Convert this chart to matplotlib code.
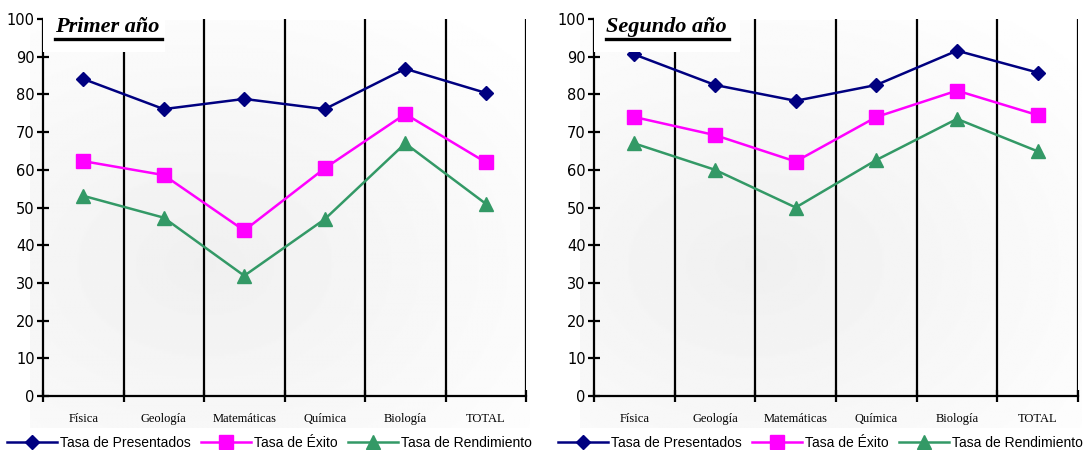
import numpy as np
import matplotlib
matplotlib.use('Agg')
import matplotlib.pyplot as plt
from matplotlib.patches import Rectangle

# Data
categorias = ['Física', 'Geología', 'Matemáticas', 'Química', 'Biología', 'TOTAL']
series = ['Tasa de Presentados', 'Tasa de Éxito', 'Tasa de Rendimiento']

primer_presentados = [84.1, 76.1, 78.8, 76.1, 86.8, 80.4]
primer_exito = [62.3, 58.6, 43.9, 60.4, 74.8, 62.0]
primer_rendimiento = [53.1, 47.3, 31.9, 46.9, 67.0, 51.0]

segundo_presentados = [90.6, 82.5, 78.3, 82.5, 91.6, 85.8]
segundo_exito = [74.0, 69.2, 62.2, 74.0, 81.0, 74.5]
segundo_rendimiento = [67.0, 60.0, 50.0, 62.6, 73.5, 64.9]

colores = ['#000080', '#ff00ff', '#339966']
marcadores = ['D', 's', '^']
tamanos = [7.5, 10, 10]

W, H = 1086, 450
fig = plt.figure(figsize=(W / 100, H / 100), dpi=100)


def fx(px):
    return px / W


def fy(py):
    return 1 - py / H


# soft gray background behind each chart area (darker around lower middle-left)
yy, xx = np.mgrid[0:1:200j, 0:1:300j]
rr = np.clip(np.sqrt(((xx - 0.35) / 0.9) ** 2 + ((yy - 0.6) / 0.8) ** 2), 0, 1)
grad = 0.94 + 0.06 * rr
for x0, x1 in [(30, 530), (580, 1082)]:
    bg = fig.add_axes([fx(x0), fy(428), fx(x1 - x0), fy(20) - fy(428)], zorder=-5)
    bg.imshow(grad, cmap='gray', vmin=0, vmax=1, aspect='auto', extent=[0, 1, 0, 1],
              origin='upper')
    bg.axis('off')

paneles = [
    ('Primer año', 43, 526, [primer_presentados, primer_exito, primer_rendimiento], 165, 162),
    ('Segundo año', 594, 1078, [segundo_presentados, segundo_exito, segundo_rendimiento], 740, 729),
]

x = np.arange(len(categorias)) + 0.5

for titulo, left, right, datos, caja, subr in paneles:
    ax = fig.add_axes([fx(left), fy(396), fx(right - left), fy(19) - fy(396)])
    ax.patch.set_alpha(0)
    for v in range(1, len(categorias) + 1):
        ax.axvline(v, color='black', lw=1.6, zorder=1)
    for vals, c, m, s, nombre in zip(datos, colores, marcadores, tamanos, series):
        ax.plot(x, vals, color=c, marker=m, markersize=s, lw=1.8, label=nombre, zorder=3)

    ax.set_xlim(0, len(categorias))
    ax.set_ylim(0, 100)
    ax.set_yticks(range(0, 101, 10))
    ax.set_xticks(range(0, len(categorias) + 1))
    ax.set_xticklabels([])
    ax.set_xticks(x, minor=True)
    ax.set_xticklabels(categorias, minor=True, fontfamily='Liberation Serif', fontsize=9)
    ax.tick_params(axis='x', which='minor', length=0, pad=12)
    ax.tick_params(axis='x', which='major', direction='inout', length=8, width=1.6)
    ax.tick_params(axis='y', direction='inout', length=8, width=1.6, labelsize=10.5, pad=2)
    for sp in ['top', 'right']:
        ax.spines[sp].set_visible(False)
    for sp in ['left', 'bottom']:
        ax.spines[sp].set_linewidth(1.6)

    # title box over the plot
    ax.add_patch(Rectangle((0, (396 - 52) / 377), (caja - left) / (right - left), 1,
                           transform=ax.transAxes, facecolor='white', edgecolor='none',
                           zorder=4, clip_on=False))
    ax.text(12 / (right - left), (396 - 27) / 377, titulo,
            transform=ax.transAxes, fontfamily='Liberation Serif', fontsize=16,
            fontweight='bold', fontstyle='italic', va='center', ha='left', zorder=5)
    ax.plot([12 / (right - left), (subr - left) / (right - left)],
            [(396 - 38.5) / 377] * 2, transform=ax.transAxes, color='black',
            lw=2.4, clip_on=False, zorder=5)

    fig.legend(*ax.get_legend_handles_labels(), loc='center left',
               bbox_to_anchor=(fx(left - 36), fy(443)), ncol=3, frameon=False,
               handlelength=3.6, handletextpad=0.25, columnspacing=0.7,
               prop={'family': 'Liberation Sans', 'size': 10}, borderaxespad=0,
               borderpad=0)

fig.savefig('out.png', dpi=100)
